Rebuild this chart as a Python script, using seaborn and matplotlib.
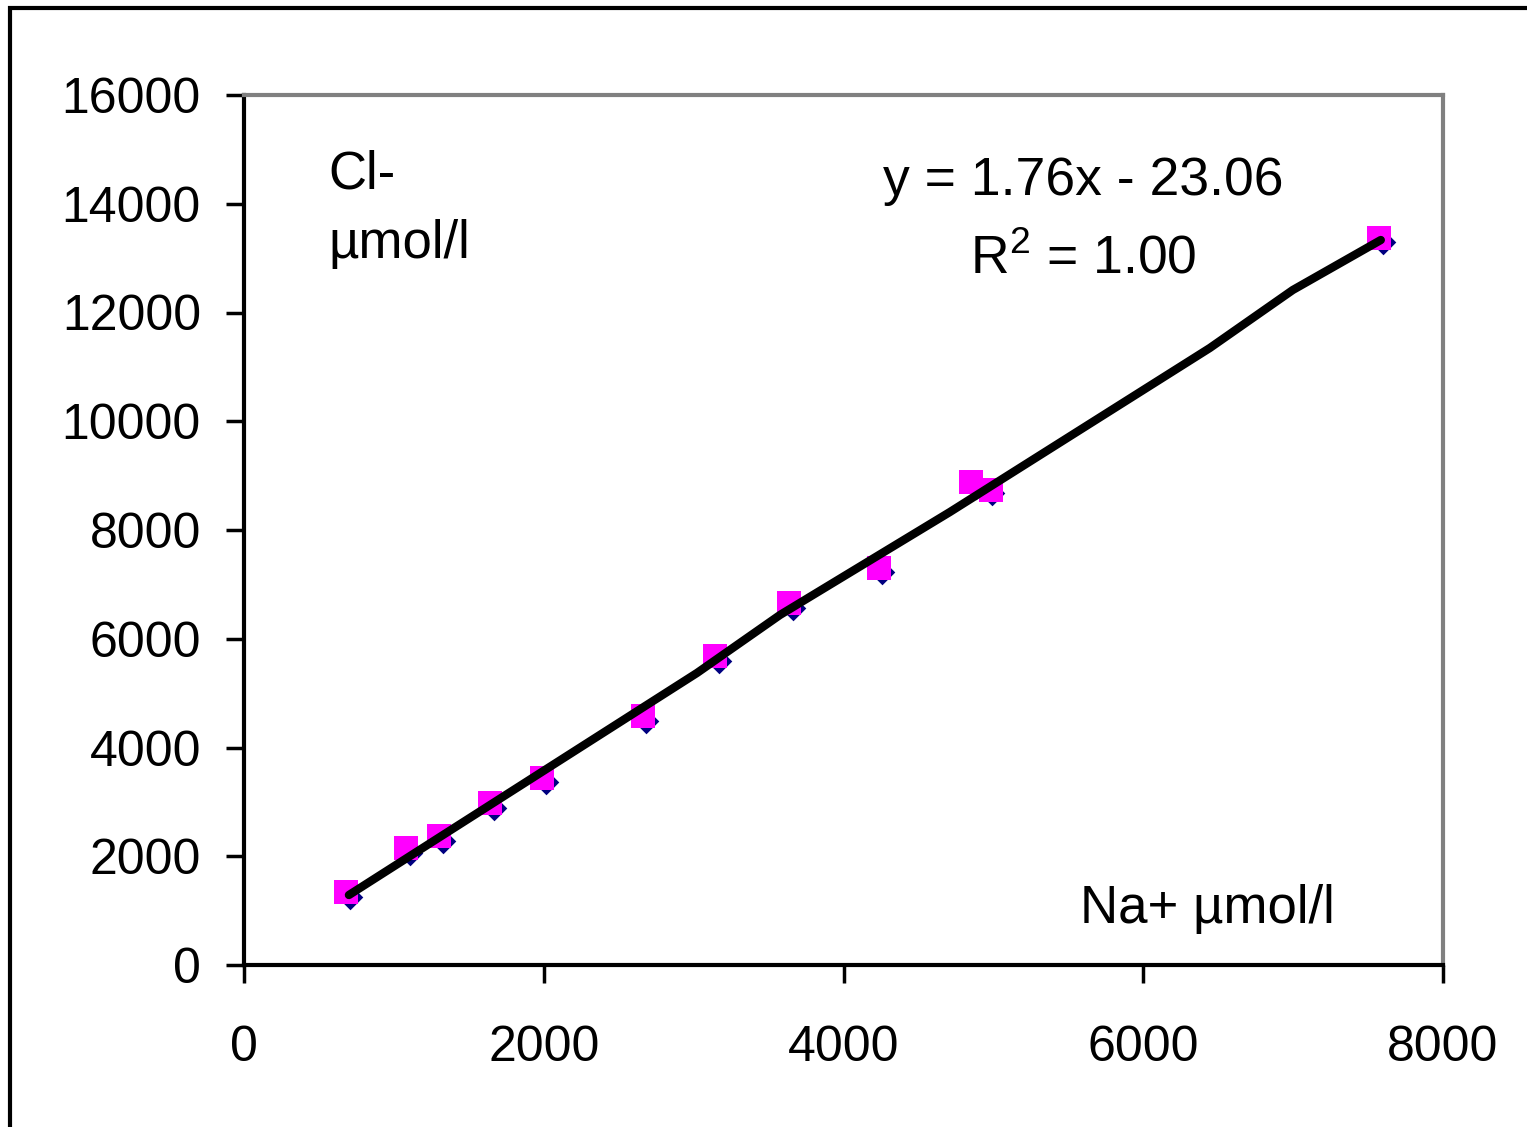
import matplotlib
matplotlib.use("Agg")
import matplotlib.pyplot as plt
import seaborn as sns
import pandas as pd
from matplotlib.patches import Rectangle

# ---- data ----
na_sq = [680, 1081, 1301, 1641, 1988, 2662, 3142, 3636, 4236, 4850, 4983, 7572]
cl_sq = [1343, 2152, 2372, 2979, 3439, 4579, 5683, 6657, 7301, 8883, 8736, 13370]

na_dm = [707, 1107, 1328, 1668, 2015, 2682, 3169, 3662, 4256, 4883, 4990, 7598]
cl_dm = [1251, 2060, 2280, 2887, 3366, 4487, 5591, 6566, 7228, 8791, 8680, 13296]

line_x = [700, 3022, 3576, 4710, 6444, 6998, 7585]
line_y = [1287, 5370, 6437, 8331, 11347, 12414, 13333]

x_ticks = [0, 2000, 4000, 6000, 8000]
y_ticks = [0, 2000, 4000, 6000, 8000, 10000, 12000, 14000, 16000]

eq_text = "y = 1.76x - 23.06"
r2_text = "R$^2$ = 1.00"

sns.set_theme(style="white")
plt.rcParams['font.family'] = ['Liberation Sans', 'DejaVu Sans']
plt.rcParams['mathtext.fontset'] = 'custom'
plt.rcParams['mathtext.rm'] = 'Liberation Sans'
plt.rcParams['text.color'] = 'black'

W, H = 1527, 1127
fig = plt.figure(figsize=(W / 100, H / 100), dpi=100)
fig.patch.set_facecolor("white")
ax = fig.add_axes([244 / W, 1 - 965 / H, (1443 - 244) / W, (965 - 95) / H])

df_dm = pd.DataFrame({"x": na_dm, "y": cl_dm})
df_sq = pd.DataFrame({"x": na_sq, "y": cl_sq})
df_ln = pd.DataFrame({"x": line_x, "y": line_y})

sns.scatterplot(data=df_dm, x="x", y="y", marker="D", s=170, color="#000080",
                linewidth=0, ax=ax, zorder=2)
sns.scatterplot(data=df_sq, x="x", y="y", marker="s", s=300, color="#FF00FF",
                linewidth=0, ax=ax, zorder=3)
sns.lineplot(data=df_ln, x="x", y="y", sort=False, color="black", linewidth=6,
             ax=ax, zorder=4)

ax.set_xlim(0, 8000)
ax.set_ylim(0, 16000)
ax.set_xticks(x_ticks)
ax.set_yticks(y_ticks)
ax.set_xlabel("")
ax.set_ylabel("")
ax.tick_params(axis="both", direction="out", length=13, width=2.5, color="black",
               labelsize=36, labelcolor="black", bottom=True, left=True)
ax.tick_params(axis="x", pad=30)
ax.tick_params(axis="y", pad=18)

for side in ["left", "bottom"]:
    ax.spines[side].set_color("black")
    ax.spines[side].set_linewidth(3)
for side in ["top", "right"]:
    ax.spines[side].set_color("#808080")
    ax.spines[side].set_linewidth(3)
    ax.spines[side].set_visible(True)

ax.text(0.07, 0.937, "Cl-\nµmol/l", transform=ax.transAxes, fontsize=38,
        ha="left", va="top", linespacing=1.48, color="black")
ax.text(0.70, 0.901, eq_text, transform=ax.transAxes, fontsize=38.5,
        ha="center", va="center", color="black")
ax.text(0.70, 0.812, r2_text, transform=ax.transAxes, fontsize=38.5,
        ha="center", va="center", color="black")
ax.text(0.91, 0.064, "Na+ µmol/l", transform=ax.transAxes, fontsize=38,
        ha="right", va="center", color="black")

# outer chart frame (only left and top edges visible in the image)
fig.add_artist(Rectangle((10 / W, -0.2), 2.0, 1.2 - 8 / H,
                         transform=fig.transFigure, fill=False,
                         edgecolor="black", linewidth=3))

fig.savefig("out.png", dpi=100, facecolor="white")
